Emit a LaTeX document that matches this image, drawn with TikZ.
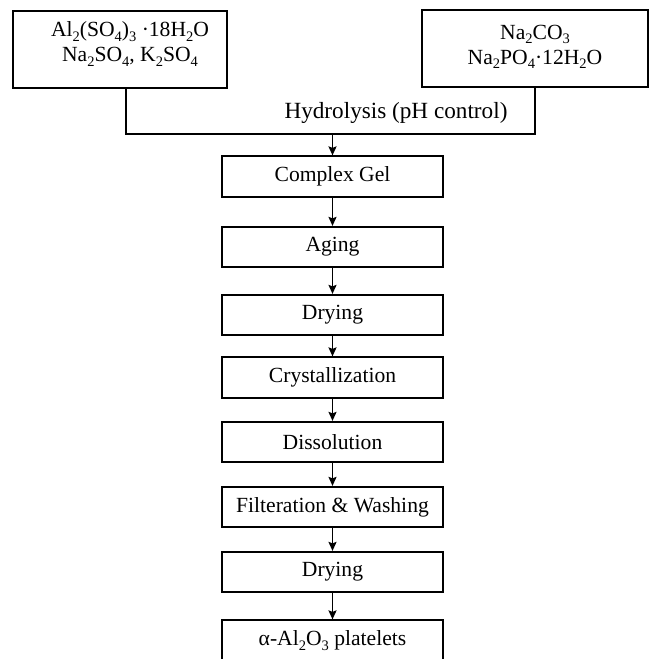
\documentclass[tikz,border=0pt]{standalone}
\usepackage{fontspec}
\setmainfont{Liberation Serif}
\usetikzlibrary{arrows.meta}
\newcommand{\chsub}[1]{\raisebox{-4.5pt}{\fontsize{14.5}{14.5}\selectfont #1}}
\begin{document}
\begin{tikzpicture}[x=1pt,y=-1pt,
  ln/.style={line width=1.7pt},
  arr/.style={line width=1.7pt,-{Stealth[length=9pt,width=8pt,inset=1.5pt]}},
  inbox/.style={draw,line width=1.7pt,inner sep=0pt},
  stepbox/.style={draw,line width=1.7pt,inner sep=0pt,minimum width=221pt,minimum height=40.5pt,
    font=\fontsize{21.6}{26}\selectfont},
  chem/.style={align=center,inner sep=0pt,font=\fontsize{21.6}{25}\selectfont},
  lbl/.style={inner sep=0pt,font=\fontsize{23.2}{27}\selectfont}]
\useasboundingbox (0,0) rectangle (654,659);
% input boxes
\node[inbox,minimum width=214pt,minimum height=77pt] (L) at (120,49.5) {};
\node[chem] (Lt) at (130,44) {Al\chsub{2}(SO\chsub{4})\chsub{3} ·18H\chsub{2}O\\Na\chsub{2}SO\chsub{4}, K\chsub{2}SO\chsub{4}};
\node[inbox,minimum width=226pt,minimum height=77pt] (R) at (535,48.5) {};
\node[chem] (Rt) at (535,47) {Na\chsub{2}CO\chsub{3}\\Na\chsub{2}PO\chsub{4}·12H\chsub{2}O};
% join
\coordinate (J) at (332.5,134);
\draw[ln] ([xshift=6pt]L.south) |- (J) -| (R.south);
\node[lbl] (H) at (396,113) {Hydrolysis (pH control)};
% steps
\node[stepbox] (s1) at (332.5,176.5) {Complex Gel};
\node[stepbox] (s2) at (332.5,247) {Aging};
\node[stepbox] (s3) at (332.5,315) {Drying};
\node[stepbox] (s4) at (332.5,377.5) {Crystallization};
\node[stepbox] (s5) at (332.5,442) {Dissolution};
\node[stepbox] (s6) at (332.5,507) {Filteration \& Washing};
\node[stepbox] (s7) at (332.5,572) {Drying};
\node[stepbox] (s8) at (332.5,640.5) {α-Al\chsub{2}O\chsub{3} platelets};
\draw[arr] (J) -- (s1.north);
\draw[arr] (s1) -- (s2);
\draw[arr] (s2) -- (s3);
\draw[arr] (s3) -- (s4);
\draw[arr] (s4) -- (s5);
\draw[arr] (s5) -- (s6);
\draw[arr] (s6) -- (s7);
\draw[arr] (s7) -- (s8);
\end{tikzpicture}
\end{document}
